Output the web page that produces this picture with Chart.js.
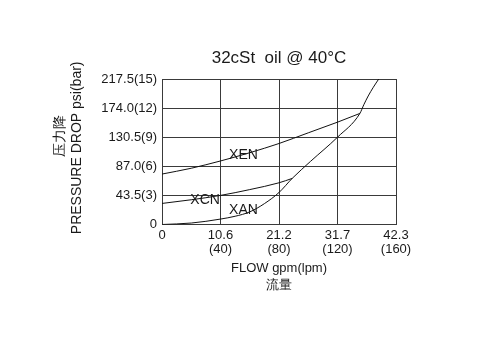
<!DOCTYPE html>
<html>
<head>
<meta charset="utf-8">
<script src="https://cdn.jsdelivr.net/npm/chart.js@4/dist/chart.umd.min.js"></script>
<style>
  html, body { margin: 0; padding: 0; background: #fff; }
  #wrap { width: 497px; height: 355px; }
</style>
</head>
<body>
<div id="wrap"><canvas id="chart" width="497" height="355"></canvas></div>
<script>
// flow in lpm, pressure drop in bar
const xenFlow = [0, 20, 40, 60, 80, 100, 120, 135.3];
const xenDrop = [5.2, 5.8, 6.55, 7.4, 8.35, 9.45, 10.55, 11.45];

const xcnFlow = [0, 20, 40, 60, 80, 89];
const xcnDrop = [2.17, 2.55, 3.0, 3.6, 4.3, 4.75];

const xanFlow = [0, 20, 40, 50, 60, 70, 80, 89, 101.5, 120, 135.3, 138, 141, 144.5, 148.2];
const xanDrop = [0, 0.15, 0.56, 0.85, 1.3, 2.15, 3.3, 4.75, 6.5, 9.0, 11.45, 12.35, 13.25, 14.15, 15.0];

// curve names and where they are written
const labelNames = ['XEN', 'XCN', 'XAN'];
const labelFlow = [55.7, 29.5, 55.7];
const labelDrop = [7.15, 2.5, 1.45];

// tick labels: gpm (lpm) and psi (bar)
const xTickLabels = [['0'], ['10.6', '(40)'], ['21.2', '(80)'], ['31.7', '(120)'], ['42.3', '(160)']];
const yTickLabels = ['0', '43.5(3)', '87.0(6)', '130.5(9)', '174.0(12)', '217.5(15)'];

const FONT = "'Liberation Sans', Arial, sans-serif";
const INK = '#1a1a1a';
const GRID = '#3a3a3a';

const toPoints = (xs, ys) => xs.map((x, i) => ({ x: x, y: ys[i] }));

const curveStyle = {
    borderColor: '#111',
    borderWidth: 1,
    pointRadius: 0,
    fill: false,
    cubicInterpolationMode: 'monotone'
};

const curveLabels = {
    id: 'curveLabels',
    afterDatasetsDraw(chart) {
        const { ctx, scales } = chart;
        ctx.save();
        ctx.font = '14px ' + FONT;
        ctx.fillStyle = INK;
        ctx.textAlign = 'center';
        ctx.textBaseline = 'middle';
        labelNames.forEach((name, i) => {
            ctx.fillText(name, scales.x.getPixelForValue(labelFlow[i]), scales.y.getPixelForValue(labelDrop[i]));
        });
        ctx.restore();
    }
};

new Chart(document.getElementById('chart').getContext('2d'), {
    type: 'line',
    data: {
        datasets: [
            Object.assign({ label: 'XEN', data: toPoints(xenFlow, xenDrop) }, curveStyle),
            Object.assign({ label: 'XCN', data: toPoints(xcnFlow, xcnDrop) }, curveStyle),
            Object.assign({ label: 'XAN', data: toPoints(xanFlow, xanDrop) }, curveStyle)
        ]
    },
    options: {
        responsive: false,
        animation: false,
        layout: { padding: { left: 0, right: 101, top: 0, bottom: 60.5 } },
        scales: {
            x: {
                type: 'linear',
                min: 0,
                max: 160,
                afterFit: scale => { scale.height = 70; },
                afterBuildTicks: scale => {
                    scale.ticks = [0, 40, 80, 120, 160].map(v => ({ value: v }));
                },
                ticks: {
                    color: INK,
                    padding: 4,
                    maxRotation: 0,
                    font: { family: FONT, size: 13, lineHeight: 1.05 },
                    callback: (value, index) => xTickLabels[index]
                },
                grid: { color: GRID, lineWidth: 1, drawTicks: false },
                border: { color: GRID, width: 1 },
                title: {
                    display: true,
                    text: ['FLOW gpm(lpm)', '流量'],
                    color: INK,
                    font: { family: FONT, size: 13, lineHeight: 1.35 },
                    padding: { top: 3, bottom: 0 }
                }
            },
            y: {
                min: 0,
                max: 15,
                afterFit: scale => { scale.width = 162; },
                afterBuildTicks: scale => {
                    scale.ticks = [0, 3, 6, 9, 12, 15].map(v => ({ value: v }));
                },
                ticks: {
                    color: INK,
                    padding: 5,
                    font: { family: FONT, size: 13 },
                    callback: (value, index) => yTickLabels[index]
                },
                grid: { color: GRID, lineWidth: 1, drawTicks: false },
                border: { color: GRID, width: 1 },
                title: {
                    display: true,
                    text: ['        压力降', '  PRESSURE DROP psi(bar)'],
                    color: INK,
                    font: { family: FONT, size: 14, lineHeight: 1.214 },
                    padding: { top: 51.5, bottom: 0 }
                }
            }
        },
        plugins: {
            legend: { display: false },
            tooltip: { enabled: false },
            title: {
                display: true,
                fullSize: false,
                text: '32cSt  oil @ 40°C',
                color: INK,
                font: { family: FONT, size: 17, weight: 'normal', lineHeight: 1.2 },
                padding: { top: 47.8, bottom: 10.8 }
            }
        }
    },
    plugins: [curveLabels]
});
</script>
</body>
</html>
